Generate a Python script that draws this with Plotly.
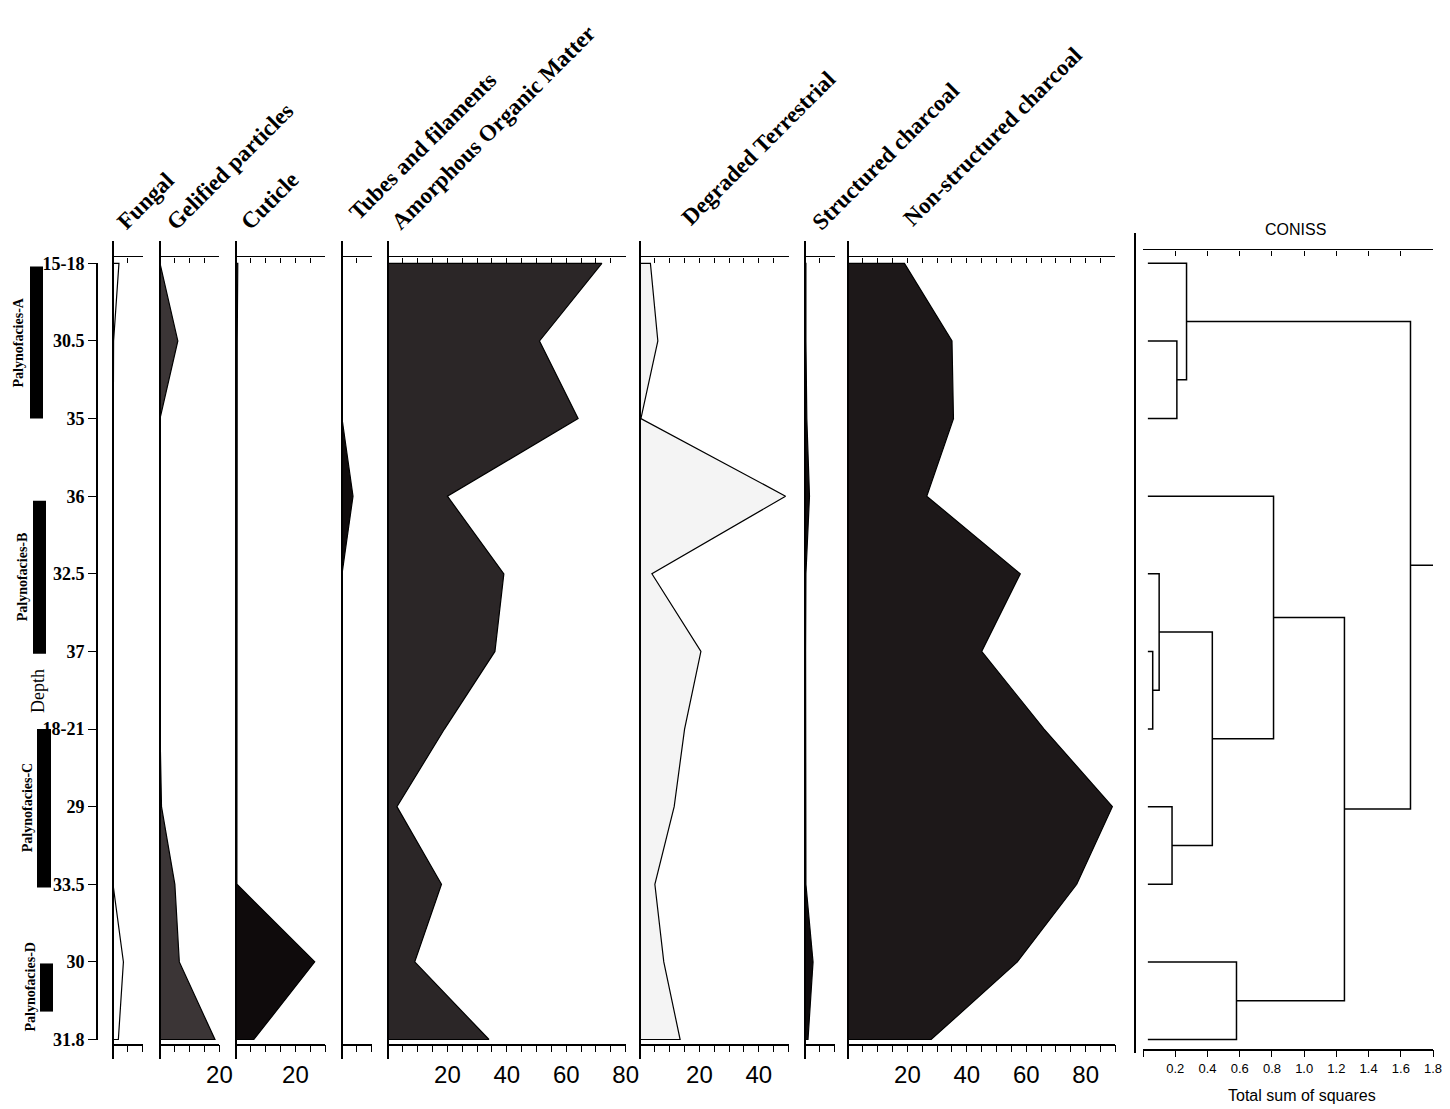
import plotly.graph_objects as go

W, H = 1450, 1109

# ---------------- data ----------------
depth_labels = ["15-18", "30.5", "35", "36", "32.5", "37", "18-21", "29", "33.5", "30", "31.8"]
sample_idx = list(range(len(depth_labels)))

fungal = [2.0, 0.2, 0, 0, 0, 0, 0, 0, 0, 3.5, 1.8]
gelified = [0, 6.0, 0, 0, 0, 0, 0, 0.5, 5.0, 6.5, 18.5]
cuticle = [0.6, 0.4, 0.4, 0.3, 0.3, 0.3, 0.3, 0.3, 0.3, 26.5, 6.0]
tubes = [0, 0, 0, 3.7, 0, 0, 0, 0, 0, 0, 0]
aom = [72, 51, 64, 20, 39, 36, 19, 3, 18, 9, 34]
degraded = [3.5, 6, 0.3, 49, 4, 20.5, 15, 11.5, 5, 8, 13.5]
structured = [0.3, 0.3, 0.6, 1.5, 0.3, 0.2, 0.2, 0.2, 0.3, 2.7, 1.0]
nonstructured = [19, 35, 35.5, 26.5, 58, 45, 66, 89, 77, 57, 28]

panel_names = ["Fungal", "Gelified particles", "Cuticle", "Tubes and filaments",
               "Amorphous Organic Matter", "Degraded Terrestrial",
               "Structured charcoal", "Non-structured charcoal"]
panel_values = [fungal, gelified, cuticle, tubes, aom, degraded, structured, nonstructured]
panel_max = [10, 20, 30, 10, 80, 50, 10, 90]
panel_tick_labels = [[], [20], [20], [], [20, 40, 60, 80], [20, 40], [], [20, 40, 60, 80]]

zone_names = ["Palynofacies-A", "Palynofacies-B", "Palynofacies-C", "Palynofacies-D"]
zone_top = [0.04, 3.06, 6.0, 9.02]
zone_bottom = [2.0, 5.03, 8.04, 9.64]

# CONISS merges: (node a, node b, height); leaves are 0..10, new nodes numbered from 11
coniss_merges = [(1, 2, 0.21), (0, 11, 0.27), (5, 6, 0.06), (4, 13, 0.10),
                 (7, 8, 0.18), (14, 15, 0.43), (3, 16, 0.81), (9, 10, 0.58),
                 (17, 18, 1.25), (12, 19, 1.66)]
coniss_root = 1.8
coniss_leaf_start = 0.03
coniss_ticks = [round(0.2 * k, 1) for k in range(10)]

# ---------------- geometry / style ----------------
panel_left_px = [113, 160, 236, 342, 388, 640, 805, 848]
PX_PER_UNIT = 2.97
panel_fill = ["#ffffff", "#3b3536", "#0f0b0c", "#0f0b0c", "#2b2627", "#f4f4f4", "#0f0b0c", "#1d1819"]
title_bl_px = [(125, 236), (175, 236), (250, 236), (357, 226), (400, 236),
               (690, 232), (820, 236), (912, 232)]
zone_x_px = [(30, 43), (33, 46), (37, 51), (40, 53)]
zone_label_x_px = [19, 22, 27, 31]

Y0_PX, DY_PX = 262, 77.7
# calibration of page pixel -> figure pixel (measured on the rendered page)
CX0, CXS = 8.0, 0.991
CY0, CYS = 16.4, 0.983


def idx_at(py):
    return (py - Y0_PX) / DY_PX


def yp(py):
    return 1 - ((py - CY0) / CYS) / H


def xp(px):
    return ((px - CX0) / CXS) / W


def axname(kind, n):
    return f"{kind}axis" if n == 1 else f"{kind}axis{n}"


def axref(kind, n):
    return kind if n == 1 else f"{kind}{n}"


SERIF_B = dict(family="Liberation Serif", color="black")
SANS = dict(family="Liberation Sans", color="black")

fig = go.Figure()
layout = {}
annotations = []
shapes = []

# ---------------- panels ----------------
for i, (name, vals, mx) in enumerate(zip(panel_names, panel_values, panel_max)):
    nb, nt, ny = 2 * i + 1, 2 * i + 2, i + 1
    left = panel_left_px[i]
    right = left + mx * PX_PER_UNIT
    tv = list(range(0, mx + 1, 5))
    tt = [str(v) if v in panel_tick_labels[i] else "" for v in tv]
    layout[axname("x", nb)] = dict(
        domain=[xp(left), xp(right)], range=[0, mx], anchor="free", position=yp(1044),
        showline=True, linecolor="black", linewidth=1.6, ticks="outside", ticklen=7,
        tickwidth=1.4, tickcolor="black", tickvals=tv, ticktext=tt,
        tickfont=dict(SANS, size=24), ticklabelstandoff=2,
        showgrid=False, zeroline=False, fixedrange=True)
    layout[axname("x", nt)] = dict(
        overlaying=axref("x", nb), range=[0, mx], anchor="free", position=yp(255), side="top",
        showline=True, linecolor="black", linewidth=1.4, ticks="inside", ticklen=5,
        tickwidth=1.3, tickcolor="black", tickvals=tv, showticklabels=False,
        showgrid=False, zeroline=False, fixedrange=True)
    layout[axname("y", ny)] = dict(
        domain=[yp(1058), yp(240)], range=[idx_at(1058), idx_at(240)], anchor="free",
        position=xp(left), showline=True, linecolor="black", linewidth=1.8,
        showticklabels=False, ticks="", showgrid=False, zeroline=False, fixedrange=True)
    xs = [0] + list(vals) + [0]
    ys = [sample_idx[0]] + sample_idx + [sample_idx[-1]]
    fig.add_trace(go.Scatter(
        x=xs, y=ys, xaxis=axref("x", nb), yaxis=axref("y", ny), mode="lines",
        fill="toself", fillcolor=panel_fill[i], line=dict(color="black", width=1.2),
        showlegend=False, hoverinfo="skip"))
    fig.add_trace(go.Scatter(x=[None], y=[None], xaxis=axref("x", nt), yaxis=axref("y", ny),
                             showlegend=False, hoverinfo="skip"))
    bx, by = title_bl_px[i]
    annotations.append(dict(
        text=f"<b>{name}</b>", x=xp(bx - 16), y=yp(by), xref="paper", yref="paper",
        xanchor="left", yanchor="bottom", textangle=-45, showarrow=False,
        font=dict(SERIF_B, size=23)))

# ---------------- CONISS dendrogram ----------------
NDB, NDT, NDY = 17, 18, 9
layout[axname("x", NDB)] = dict(
    domain=[xp(1143), xp(1433)], range=[0, 1.8], anchor="free", position=yp(1049),
    showline=True, linecolor="black", linewidth=1.6, ticks="outside", ticklen=7,
    tickwidth=1.3, tickcolor="black", tickvals=coniss_ticks,
    ticktext=["" if v == 0 else f"{v:.1f}" for v in coniss_ticks],
    tickfont=dict(SANS, size=13), showgrid=False, zeroline=False, fixedrange=True)
layout[axname("x", NDT)] = dict(
    overlaying=axref("x", NDB), range=[0, 1.8], anchor="free", position=yp(248), side="top",
    showline=True, linecolor="black", linewidth=1.4, ticks="inside", ticklen=5,
    tickwidth=1.3, tickcolor="black", tickvals=coniss_ticks, showticklabels=False,
    showgrid=False, zeroline=False, fixedrange=True)
layout[axname("y", NDY)] = dict(
    domain=[yp(1052), yp(232)], range=[idx_at(1052), idx_at(232)], anchor="free",
    position=xp(1135), showline=True, linecolor="black", linewidth=1.6,
    showticklabels=False, ticks="", showgrid=False, zeroline=False, fixedrange=True)

node_y = {i: float(i) for i in sample_idx}
node_h = {i: coniss_leaf_start for i in sample_idx}
dx, dy = [], []
nid = len(sample_idx)
for a, b, h in coniss_merges:
    ya_, yb_ = node_y[a], node_y[b]
    dx += [node_h[a], h, h, node_h[b], None]
    dy += [ya_, ya_, yb_, yb_, None]
    node_y[nid] = (ya_ + yb_) / 2
    node_h[nid] = h
    nid += 1
root = nid - 1
dx += [node_h[root], coniss_root, None]
dy += [node_y[root], node_y[root], None]
fig.add_trace(go.Scatter(x=dx, y=dy, xaxis=axref("x", NDB), yaxis=axref("y", NDY), mode="lines",
                         line=dict(color="black", width=1.5), showlegend=False, hoverinfo="skip"))
fig.add_trace(go.Scatter(x=[None], y=[None], xaxis=axref("x", NDT), yaxis=axref("y", NDY),
                         showlegend=False, hoverinfo="skip"))
annotations.append(dict(text="CONISS", x=xp(1295), y=yp(228), xref="paper", yref="paper",
                        xanchor="center", yanchor="middle",
                        showarrow=False, font=dict(SANS, size=16)))
annotations.append(dict(text="Total sum of squares", x=xp(1302), y=yp(1095), xref="paper",
                        yref="paper", xanchor="center", yanchor="middle",
                        showarrow=False, font=dict(SANS, size=16)))

# ---------------- depth axis & zones ----------------
NXD, NYD = 19, 10
layout[axname("x", NXD)] = dict(domain=[0, xp(97)], range=[0, 1], visible=False, fixedrange=True)
layout[axname("y", NYD)] = dict(
    domain=[yp(sample_idx[-1] * DY_PX + Y0_PX), yp(Y0_PX)], range=[sample_idx[-1], 0],
    anchor="free", position=xp(97), showline=True, linecolor="black", linewidth=1.6,
    ticks="outside", ticklen=8, tickwidth=1.4, tickcolor="black",
    tickvals=sample_idx, ticktext=[f"<b>{t}</b>" for t in depth_labels],
    tickfont=dict(SERIF_B, size=18), showgrid=False, zeroline=False, fixedrange=True)
fig.add_trace(go.Scatter(x=[None], y=[None], xaxis=axref("x", NXD), yaxis=axref("y", NYD),
                         showlegend=False, hoverinfo="skip"))

for zn, zt, zb, (x0, x1), lx in zip(zone_names, zone_top, zone_bottom, zone_x_px, zone_label_x_px):
    shapes.append(dict(type="rect", xref="paper", yref=axref("y", NYD), x0=xp(x0), x1=xp(x1),
                       y0=zt, y1=zb, fillcolor="black", line=dict(width=0), layer="below"))
    annotations.append(dict(text=f"<b>{zn}</b>", x=xp(lx), y=(zt + zb) / 2, xref="paper",
                            yref=axref("y", NYD), xanchor="center", yanchor="middle",
                            textangle=-90, showarrow=False, font=dict(SERIF_B, size=14)))

annotations.append(dict(text="Depth", x=xp(38), y=yp(690), xref="paper", yref="paper",
                        xanchor="center", yanchor="middle", textangle=-90, showarrow=False,
                        font=dict(family="Liberation Serif", color="black", size=18)))

fig.update_layout(width=W, height=H, margin=dict(l=0, r=0, t=0, b=0),
                  paper_bgcolor="white", plot_bgcolor="white",
                  annotations=annotations, shapes=shapes, showlegend=False, **layout)

fig.write_html("out.html")
